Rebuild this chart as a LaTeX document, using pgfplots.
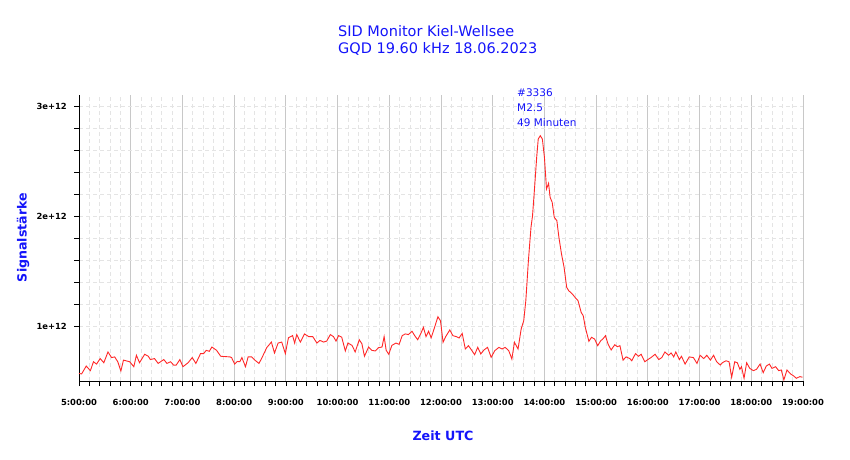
\documentclass[border=0pt]{standalone}
\usepackage{pgfplots}
\pgfplotsset{compat=1.18}
\usepackage{fontspec}
\setmainfont{DejaVu Sans}
\definecolor{titleblue}{RGB}{20,20,250}
\definecolor{majgrid}{RGB}{200,200,200}
\definecolor{mingrid}{RGB}{228,228,228}
\definecolor{sigred}{RGB}{255,40,40}
\pgfplotstableread{
h v
5.00 0.575
5.05 0.570
5.14 0.642
5.22 0.600
5.28 0.681
5.34 0.660
5.41 0.710
5.48 0.672
5.56 0.770
5.63 0.719
5.69 0.725
5.75 0.681
5.81 0.597
5.86 0.696
5.98 0.681
6.06 0.636
6.11 0.740
6.17 0.672
6.27 0.749
6.34 0.731
6.38 0.701
6.46 0.710
6.53 0.666
6.64 0.701
6.70 0.666
6.77 0.681
6.83 0.651
6.88 0.651
6.95 0.701
7.01 0.636
7.11 0.672
7.19 0.719
7.26 0.666
7.35 0.755
7.41 0.755
7.46 0.785
7.52 0.776
7.57 0.815
7.66 0.785
7.74 0.731
7.92 0.725
7.95 0.719
8.01 0.660
8.06 0.684
8.11 0.681
8.15 0.719
8.22 0.636
8.27 0.725
8.34 0.725
8.40 0.696
8.48 0.666
8.53 0.710
8.63 0.809
8.72 0.860
8.78 0.761
8.85 0.851
8.92 0.860
8.99 0.755
9.05 0.899
9.13 0.919
9.17 0.851
9.21 0.928
9.28 0.860
9.36 0.934
9.44 0.910
9.52 0.910
9.60 0.851
9.66 0.875
9.73 0.860
9.79 0.869
9.86 0.928
9.92 0.910
9.97 0.869
10.02 0.919
10.08 0.904
10.15 0.779
10.20 0.851
10.28 0.830
10.34 0.770
10.42 0.881
10.47 0.845
10.52 0.731
10.60 0.815
10.66 0.785
10.73 0.779
10.79 0.809
10.86 0.815
10.90 0.910
10.94 0.785
10.99 0.749
11.05 0.830
11.13 0.851
11.19 0.839
11.25 0.919
11.31 0.934
11.37 0.928
11.44 0.958
11.49 0.919
11.55 0.881
11.62 0.949
11.66 0.994
11.71 0.910
11.76 0.958
11.81 0.899
11.88 1.000
11.94 1.090
11.99 1.054
12.04 0.858
12.09 0.909
12.17 0.970
12.23 0.918
12.30 0.909
12.35 0.897
12.41 0.939
12.47 0.797
12.53 0.827
12.59 0.788
12.65 0.745
12.71 0.812
12.77 0.752
12.83 0.788
12.90 0.812
12.97 0.721
13.04 0.782
13.12 0.812
13.18 0.797
13.24 0.812
13.31 0.782
13.37 0.706
13.42 0.858
13.49 0.797
13.55 0.979
13.60 1.055
13.64 1.236
13.69 1.600
13.74 1.903
13.77 2.009
13.81 2.267
13.85 2.539
13.88 2.706
13.92 2.736
13.96 2.706
14.00 2.539
14.04 2.252
14.08 2.303
14.11 2.176
14.15 2.130
14.19 1.994
14.24 1.964
14.28 1.812
14.33 1.661
14.38 1.539
14.43 1.358
14.47 1.327
14.54 1.297
14.59 1.267
14.65 1.236
14.71 1.130
14.75 1.100
14.79 0.994
14.86 0.867
14.91 0.903
14.97 0.888
15.03 0.827
15.09 0.873
15.13 0.888
15.18 0.918
15.23 0.842
15.29 0.788
15.36 0.836
15.41 0.818
15.46 0.827
15.52 0.696
15.58 0.725
15.65 0.710
15.69 0.690
15.76 0.755
15.82 0.731
15.87 0.749
15.94 0.681
16.00 0.701
16.06 0.719
16.14 0.749
16.21 0.701
16.27 0.719
16.33 0.770
16.40 0.740
16.45 0.761
16.50 0.725
16.54 0.770
16.61 0.701
16.65 0.731
16.72 0.660
16.80 0.725
16.88 0.719
16.95 0.666
17.01 0.740
17.08 0.710
17.14 0.740
17.21 0.696
17.27 0.740
17.33 0.681
17.40 0.651
17.44 0.672
17.51 0.690
17.57 0.681
17.62 0.540
17.68 0.681
17.73 0.672
17.78 0.612
17.81 0.636
17.86 0.531
17.91 0.672
17.97 0.621
18.04 0.600
18.10 0.612
18.17 0.660
18.23 0.582
18.29 0.642
18.35 0.660
18.40 0.621
18.47 0.636
18.53 0.600
18.58 0.606
18.63 0.516
18.69 0.606
18.76 0.570
18.82 0.552
18.87 0.531
18.94 0.546
18.99 0.540
}\sig
\begin{document}
\begin{tikzpicture}
\path[use as bounding box] (0pt,0pt) rectangle (850pt,459pt);
\begin{axis}[
  at={(79pt,78pt)}, anchor=south west,
  scale only axis, width=724pt, height=286pt,
  xmin=5, xmax=19, ymin=0.506, ymax=3.106,
  axis x line*=bottom, axis y line*=left,
  axis line style={-, black, line width=0.8pt},
  xtick={5,6,...,19},
  xticklabels={5:00:00,6:00:00,7:00:00,8:00:00,9:00:00,10:00:00,11:00:00,12:00:00,13:00:00,14:00:00,15:00:00,16:00:00,17:00:00,18:00:00,19:00:00},
  ytick={1,2,3},
  yticklabels={1e+12,2e+12,3e+12},
  minor x tick num=4,
  minor y tick num=4,
  tick align=outside,
  major tick length=5pt, minor tick length=5pt,
  tick style={black, line width=0.7pt},
  xmajorgrids, xminorgrids, ymajorgrids, yminorgrids,
  major x grid style={majgrid, line width=0.8pt},
  minor x grid style={mingrid, line width=0.8pt, dash pattern=on 4pt off 3pt},
  major y grid style={mingrid, line width=0.8pt, dash pattern=on 4pt off 3pt},
  minor y grid style={mingrid, line width=0.8pt, dash pattern=on 4pt off 3pt},
  ticklabel style={font=\fontsize{8.4}{10}\selectfont\bfseries, text=black},
  xticklabel style={anchor=north, inner sep=0pt},
  yticklabel style={anchor=east, inner sep=0pt},
  xticklabel shift=13pt,
  yticklabel shift=7pt,
  clip=false,
]
\addplot[sigred, line width=0.9pt] table[x=h, y=v] {\sig};
\end{axis}
\node[anchor=west, align=left, inner sep=0pt, text=titleblue, font=\fontsize{14.5}{17.6}\selectfont] at (338pt,418.5pt) {SID Monitor Kiel-Wellsee\\GQD 19.60 kHz 18.06.2023};
\node[anchor=west, align=left, inner sep=0pt, text=titleblue, font=\fontsize{10.5}{15}\selectfont] at (517pt,351.7pt) {\#3336\\M2.5\\49 Minuten};
\node[text=titleblue, font=\fontsize{12.7}{15}\selectfont\bfseries] at (443pt,23pt) {Zeit UTC};
\node[text=titleblue, font=\fontsize{12.6}{15}\selectfont\bfseries, rotate=90] at (23pt,221.5pt) {Signalstärke};
\end{tikzpicture}
\end{document}
